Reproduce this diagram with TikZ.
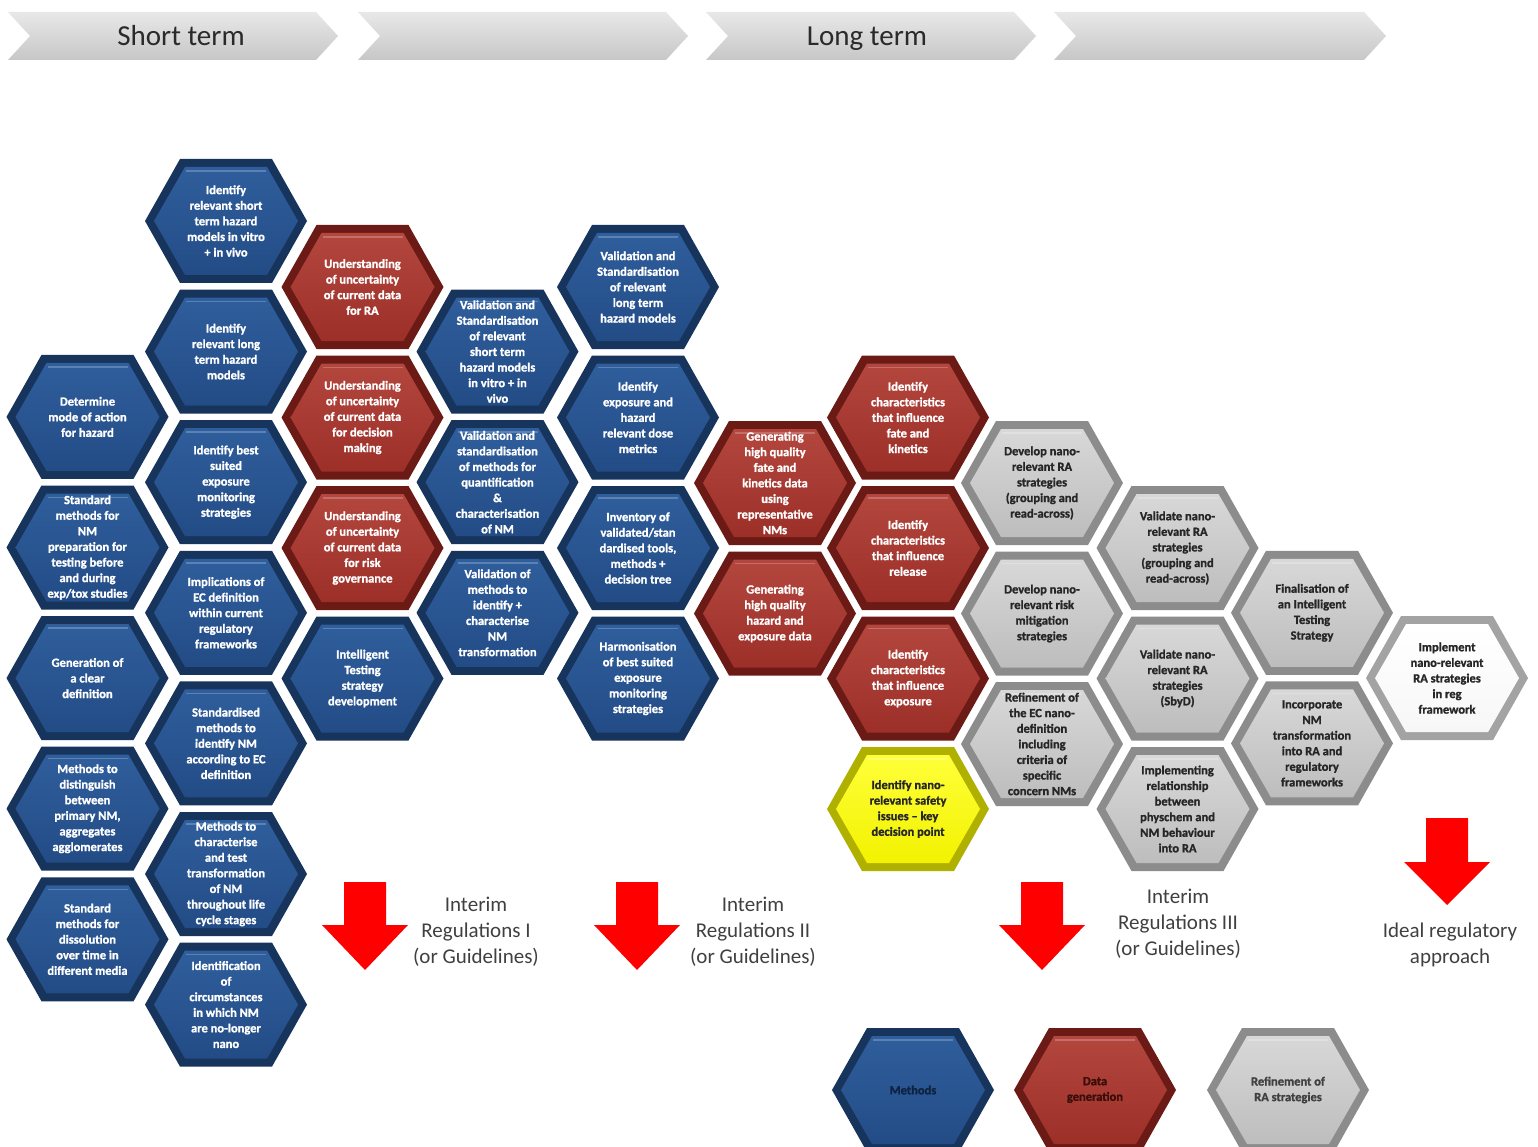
\documentclass[tikz,border=0pt]{standalone}
\usepackage{fontspec}
\setmainfont{Carlito}
\newfontfamily\hexfont{Carlito}[BoldFeatures={FakeBold=1.3}]
\definecolor{blueedge}{HTML}{17345D}
\definecolor{bluebase}{HTML}{234C86}
\definecolor{bluelight}{HTML}{2F5E9C}
\definecolor{bluetxt}{HTML}{FFFFFF}
\definecolor{rededge}{HTML}{6B1A15}
\definecolor{redbase}{HTML}{9C2F28}
\definecolor{redlight}{HTML}{B3463D}
\definecolor{redtxt}{HTML}{FFFFFF}
\definecolor{greyedge}{HTML}{8C8C8C}
\definecolor{greybase}{HTML}{BDBDBD}
\definecolor{greylight}{HTML}{D8D8D8}
\definecolor{greytxt}{HTML}{262626}
\definecolor{yellowedge}{HTML}{B0B000}
\definecolor{yellowbase}{HTML}{F2F200}
\definecolor{yellowlight}{HTML}{FFFF3A}
\definecolor{yellowtxt}{HTML}{262626}
\definecolor{whiteedge}{HTML}{A3A3A3}
\definecolor{whitebase}{HTML}{F7F7F7}
\definecolor{whitelight}{HTML}{FFFFFF}
\definecolor{whitetxt}{HTML}{262626}
\definecolor{labeltxt}{HTML}{404040}
\definecolor{bannertxt}{HTML}{2A2A2A}
\definecolor{arrowred}{HTML}{FF0000}
\tikzset{
  hextext/.style={align=center, inner sep=0pt, font=\hexfont\bfseries\fontsize{12.5}{15.6}\selectfont},
  bannertext/.style={inner sep=0pt, anchor=base, text=bannertxt, font=\fontsize{29}{31}\selectfont},
  interimtext/.style={align=center, inner sep=0pt, text=labeltxt, font=\fontsize{21}{26}\selectfont},
  chevronfill/.style={top color=black!9, bottom color=black!22},
  downarrow/.style={fill=arrowred}
}
\newcommand\hexcell[5]{%
  \fill[#4edge] (#2,#3) ++(-81,0) -- ++(35,-62) -- ++(92,0) -- ++(35,62) -- ++(-35,62) -- ++(-92,0) -- cycle;
  \shade[top color=#4light, bottom color=#4base] (#2,#3) ++(-72,0) -- ++(31,-54) -- ++(82,0) -- ++(31,54) -- ++(-31,54) -- ++(-82,0) -- cycle;
  \draw[#4light!50!white, opacity=0.45, line width=1.5pt] (#2,#3) ++(-40,-50) -- ++(80,0);
  \node[hextext, text=#4txt] (#1) at (#2,#3) {#5};
}
\newcommand\chevron[2]{%
  \shade[chevronfill] (#1,12) -- (#2-22,12) -- (#2,36) -- (#2-22,60) -- (#1,60) -- (#1+22,36) -- cycle;
}
\newcommand\redarrow[4]{% cx, top, neck, tip
  \fill[downarrow] (#1-21,#2) -- (#1+21,#2) -- (#1+21,#3) -- (#1+43,#3) -- (#1,#4) -- (#1-43,#3) -- (#1-21,#3) -- cycle;
}
\begin{document}
\begin{tikzpicture}[x=1pt,y=-1pt]
\useasboundingbox (0,0) rectangle (1538,1147);
\clip (0,0) rectangle (1538,1147);
\fill[white] (0,0) rectangle (1538,1147);
% banner
\chevron{8}{338}
\chevron{358}{688}
\chevron{706}{1036}
\chevron{1054}{1386}
\node[bannertext] (short) at (181,46) {Short term};
\node[bannertext] (long) at (867,46) {Long term};
% column 1
\hexcell{c1a}{87.5}{416.9}{blue}{Determine\\mode of action\\for hazard}
\hexcell{c1b}{87.5}{547.5}{blue}{Standard\\methods for\\NM\\preparation for\\testing before\\and during\\exp/tox studies}
\hexcell{c1c}{87.5}{678.1}{blue}{Generation of\\a clear\\definition}
\hexcell{c1d}{87.5}{808.7}{blue}{Methods to\\distinguish\\between\\primary NM,\\aggregates\\agglomerates}
\hexcell{c1e}{87.5}{939.3}{blue}{Standard\\methods for\\dissolution\\over time in\\different media}
% column 2
\hexcell{c2a}{226}{221}{blue}{Identify\\relevant short\\term hazard\\models in vitro\\+ in vivo}
\hexcell{c2b}{226}{351.6}{blue}{Identify\\relevant long\\term hazard\\models}
\hexcell{c2c}{226}{482.2}{blue}{Identify best\\suited\\exposure\\monitoring\\strategies}
\hexcell{c2d}{226}{612.8}{blue}{Implications of\\EC definition\\within current\\regulatory\\frameworks}
\hexcell{c2e}{226}{743.4}{blue}{Standardised\\methods to\\identify NM\\according to EC\\definition}
\hexcell{c2f}{226}{874}{blue}{Methods to\\characterise\\and test\\transformation\\of NM\\throughout life\\cycle stages}
\hexcell{c2g}{226}{1004.6}{blue}{Identification\\of\\circumstances\\in which NM\\are no-longer\\nano}
% column 3
\hexcell{c3a}{362.5}{287}{red}{Understanding\\of uncertainty\\of current data\\for RA}
\hexcell{c3b}{362.5}{417.5}{red}{Understanding\\of uncertainty\\of current data\\for decision\\making}
\hexcell{c3c}{362.5}{548}{red}{Understanding\\of uncertainty\\of current data\\for risk\\governance}
\hexcell{c3d}{362.5}{678.5}{blue}{Intelligent\\Testing\\strategy\\development}
% column 4
\hexcell{c4a}{497.5}{351.6}{blue}{Validation and\\Standardisation\\of relevant\\short term\\hazard models\\in vitro + in\\vivo}
\hexcell{c4b}{497.5}{482.2}{blue}{Validation and\\standardisation\\of methods for\\quantification\\\&\\characterisation\\of NM}
\hexcell{c4c}{497.5}{612.8}{blue}{Validation of\\methods to\\identify +\\characterise\\NM\\transformation}
% column 5
\hexcell{c5a}{638}{287}{blue}{Validation and\\Standardisation\\of relevant\\long term\\hazard models}
\hexcell{c5b}{638}{417.5}{blue}{Identify\\exposure and\\hazard\\relevant dose\\metrics}
\hexcell{c5c}{638}{548}{blue}{Inventory of\\validated/stan\\dardised tools,\\methods +\\decision tree}
\hexcell{c5d}{638}{678.5}{blue}{Harmonisation\\of best suited\\exposure\\monitoring\\strategies}
% column 6
\hexcell{c6a}{775}{483}{red}{Generating\\high quality\\fate and\\kinetics data\\using\\representative\\NMs}
\hexcell{c6b}{775}{613.5}{red}{Generating\\high quality\\hazard and\\exposure data}
% column 7
\hexcell{c7a}{908}{417.5}{red}{Identify\\characteristics\\that influence\\fate and\\kinetics}
\hexcell{c7b}{908}{548}{red}{Identify\\characteristics\\that influence\\release}
\hexcell{c7c}{908}{678.5}{red}{Identify\\characteristics\\that influence\\exposure}
\hexcell{c7d}{908}{809}{yellow}{Identify nano-\\relevant safety\\issues – key\\decision point}
% column 8
\hexcell{c8a}{1042}{483}{grey}{Develop nano-\\relevant RA\\strategies\\(grouping and\\read-across)}
\hexcell{c8b}{1042}{613.5}{grey}{Develop nano-\\relevant risk\\mitigation\\strategies}
\hexcell{c8c}{1042}{744}{grey}{Refinement of\\the EC nano-\\definition\\including\\criteria of\\specific\\concern NMs}
% column 9
\hexcell{c9a}{1177.5}{548}{grey}{Validate nano-\\relevant RA\\strategies\\(grouping and\\read-across)}
\hexcell{c9b}{1177.5}{678.5}{grey}{Validate nano-\\relevant RA\\strategies\\(SbyD)}
\hexcell{c9c}{1177.5}{809}{grey}{Implementing\\relationship\\between\\physchem and\\NM behaviour\\into RA}
% column 10
\hexcell{c10a}{1312}{612.8}{grey}{Finalisation of\\an Intelligent\\Testing\\Strategy}
\hexcell{c10b}{1312}{743.4}{grey}{Incorporate\\NM\\transformation\\into RA and\\regulatory\\frameworks}
% column 11
\hexcell{c11a}{1447}{678.1}{white}{Implement\\nano-relevant\\RA strategies\\in reg\\framework}
% arrows and labels
\redarrow{365}{882}{925}{970}
\redarrow{637}{882}{925}{970}
\redarrow{1042}{882}{925}{970}
\redarrow{1447}{818}{862}{905}
\node[interimtext] (lab1) at (476,932) {Interim\\Regulations I\\(or Guidelines)};
\node[interimtext] (lab2) at (753,932) {Interim\\Regulations II\\(or Guidelines)};
\node[interimtext] (lab3) at (1178,924) {Interim\\Regulations III\\(or Guidelines)};
\node[interimtext] (lab4) at (1450,945) {Ideal regulatory\\approach};
% legend
\definecolor{bluetxt}{HTML}{0E2140}
\definecolor{redtxt}{HTML}{3A0E0B}
\definecolor{greytxt}{HTML}{404040}
\hexcell{legm}{913}{1090}{blue}{Methods}
\hexcell{legd}{1095}{1090}{red}{Data\\generation}
\hexcell{legr}{1288}{1090}{grey}{Refinement of\\RA strategies}
\end{tikzpicture}
\end{document}
